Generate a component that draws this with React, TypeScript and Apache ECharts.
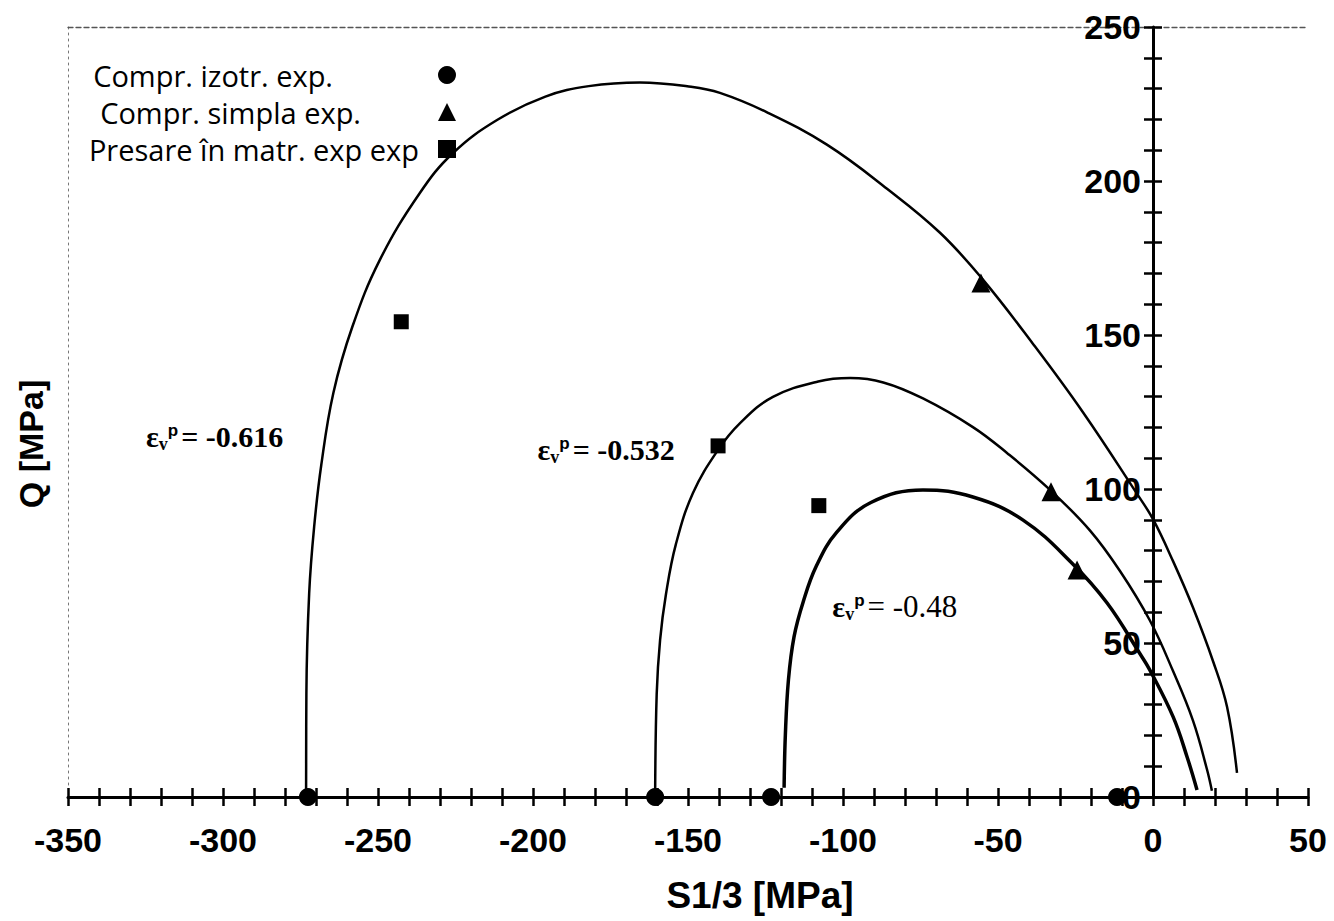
import React, { useEffect, useRef } from "react";
import * as echarts from "echarts";

// ---- data ----
const xLabelValues = [-350, -300, -250, -200, -150, -100, -50, 0, 50];
const yLabelValues = [0, 50, 100, 150, 200, 250];
const X_MIN = -350;
const X_MAX = 50;
const Y_MIN = 0;
const Y_MAX = 250;

const curve616 = [
  [-273.2, 0], [-273.1, 33.8], [-272.2, 66.2], [-270.6, 87.7], [-268.3, 107.8],
  [-264.4, 131.2], [-258.3, 152.6], [-249.4, 174.4], [-236.5, 196.1], [-225.8, 209.1],
  [-211.6, 219.8], [-196, 227.4], [-182, 230.8], [-165.5, 232], [-149, 230.6],
  [-139.7, 228.6], [-124.5, 222.3], [-105.2, 211.8], [-85.8, 197.5], [-68.7, 183.2],
  [-54.8, 167.9], [-38.7, 147.1], [-22.6, 124.9], [-5.2, 98.5], [0, 90.2],
  [6.5, 76.5], [12.9, 61.5], [19.4, 44], [23.9, 29.2], [27.1, 7.8],
];
const curve532 = [
  [-160.6, 0], [-160.1, 33.4], [-159, 51], [-157.1, 65.9], [-153.9, 82.1],
  [-148.4, 98.7], [-140.3, 112.7], [-133.2, 121.4], [-122.6, 129.9], [-108, 134.9],
  [-97.7, 136], [-87, 134.6], [-74.2, 129.4], [-58.1, 120.1], [-47.1, 111.7],
  [-33.2, 99.7], [-20.3, 86.5], [-10.6, 73.3], [-1, 57.3], [6.5, 40.8],
  [12.9, 24.8], [17.4, 9], [19, 2],
];
const curve48 = [
  [-119, 3], [-118.6, 20], [-117.6, 38], [-115.8, 52], [-112.8, 63.5],
  [-108.6, 75], [-102, 86], [-91, 95.6], [-74.2, 99.7], [-58.1, 97.4],
  [-41.9, 89.9], [-25.8, 75.6], [-14.8, 63], [-4.2, 46.5], [-1, 41.2],
  [6.5, 26], [11, 13], [14.2, 2.3],
];

const izotrPoints = [[-272.6, 0], [-160.6, 0], [-123.2, 0], [-11.6, 0]];
const simplaPoints = [[-55.5, 166.9], [-32.9, 99.1], [-24.5, 73.7]];
const matrPoints = [[-242.5, 154.3], [-140.3, 114], [-107.8, 94.6]];

const epsLabels = ["-0.616", "-0.532", "-0.48"];
const epsAnchors = [[-325, 116.9], [-198.7, 112.7], [-103.6, 61.7]];

const seriesNames = ["Compr. izotr. exp.", "Compr. simpla exp.", "Presare în matr. exp exp"];

const SANS = '"Liberation Sans", Arial, sans-serif';
const SERIF = '"Liberation Serif", "Times New Roman", serif';
const LEG = '"Open Sans", "DejaVu Sans", sans-serif';

const GRID = { left: 68, right: 26, top: 27, bottom: 124 };
const CHART_W = 1334;

export default function App() {
  const ref = useRef<HTMLDivElement>(null);

  useEffect(() => {
    if (!ref.current) return;
    const chart = echarts.init(ref.current, undefined, { renderer: "svg" });

    const tickLbl = (allowed: number[]) => (v: number) =>
      allowed.indexOf(Math.round(v)) >= 0 ? String(Math.round(v)) : "";

    // offset that moves the left-positioned y axis onto x = 0
    const gridW = CHART_W - GRID.left - GRID.right;
    const yAxisOffset = -gridW * ((0 - X_MIN) / (X_MAX - X_MIN));

    const baseX = { type: "value", min: X_MIN, max: X_MAX, interval: 10, splitLine: { show: false } };
    const baseY = { type: "value", min: Y_MIN, max: Y_MAX, interval: 10, splitLine: { show: false } };

    const curveStyle = (w: number) => ({
      type: "line",
      smooth: 0.4,
      showSymbol: false,
      symbol: "none",
      lineStyle: { color: "#000", width: w },
      silent: true,
      z: 3,
    });

    const option: any = {
      animation: false,
      backgroundColor: "#fff",
      grid: { ...GRID, containLabel: false },
      legend: {
        orient: "vertical",
        align: "right",
        right: 873,
        top: 55,
        itemWidth: 18,
        itemHeight: 18,
        itemGap: 7,
        selectedMode: false,
        itemStyle: { opacity: 1 },
        textStyle: { fontFamily: LEG, fontSize: 29, color: "#000", lineHeight: 30 },
        data: [
          { name: seriesNames[0], textStyle: { padding: [0, 100, 0, 0] } },
          { name: seriesNames[1], textStyle: { padding: [0, 72, 0, 0] } },
          { name: seriesNames[2], textStyle: { padding: [0, 14, 0, 0] } },
        ],
      },
      xAxis: [
        {
          ...baseX,
          position: "bottom",
          axisLine: { onZero: false, lineStyle: { color: "#000", width: 3 } },
          axisTick: { show: true, length: 9, lineStyle: { color: "#000", width: 2.5 } },
          axisLabel: {
            formatter: tickLbl(xLabelValues),
            fontFamily: SANS,
            fontWeight: "bold",
            fontSize: 34,
            color: "#000",
            margin: 26,
          },
          name: "S1/3 [MPa]",
          nameLocation: "middle",
          nameGap: 80,
          nameTextStyle: {
            fontFamily: SANS,
            fontWeight: "bold",
            fontSize: 37,
            color: "#000",
            padding: [0, 0, 0, 144],
          },
        },
        {
          ...baseX,
          position: "bottom",
          axisLine: { show: false, onZero: false },
          axisTick: { show: true, inside: true, length: 9, lineStyle: { color: "#000", width: 2.5 } },
          axisLabel: { show: false },
        },
        {
          ...baseX,
          position: "top",
          axisLine: { show: true, onZero: false, lineStyle: { color: "#555", width: 1.3, type: [5, 3] } },
          axisTick: { show: false },
          axisLabel: { show: false },
        },
      ],
      yAxis: [
        {
          ...baseY,
          position: "left",
          offset: yAxisOffset,
          axisLine: { onZero: false, lineStyle: { color: "#000", width: 3 } },
          axisTick: { show: true, length: 9, lineStyle: { color: "#000", width: 2.5 } },
          axisLabel: {
            formatter: tickLbl(yLabelValues),
            fontFamily: SANS,
            fontWeight: "bold",
            fontSize: 34,
            color: "#000",
            margin: 12,
          },
        },
        {
          ...baseY,
          position: "left",
          offset: yAxisOffset,
          axisLine: { show: false, onZero: false },
          axisTick: { show: true, inside: true, length: 9, lineStyle: { color: "#000", width: 2.5 } },
          axisLabel: { show: false },
        },
        {
          ...baseY,
          position: "left",
          offset: 0,
          axisLine: { show: true, onZero: false, lineStyle: { color: "#777", width: 1, type: [2, 4] } },
          axisTick: { show: false },
          axisLabel: { show: false },
          name: "Q [MPa]",
          nameLocation: "middle",
          nameGap: 20,
          nameRotate: 90,
          nameTextStyle: {
            fontFamily: SANS,
            fontWeight: "bold",
            fontSize: 34,
            color: "#000",
            padding: [0, 64, 0, 0],
          },
        },
      ],
      series: [
        { ...curveStyle(2.5), name: "eps616", data: curve616 },
        { ...curveStyle(2.5), name: "eps532", data: curve532 },
        { ...curveStyle(3.5), name: "eps48", data: curve48 },
        {
          type: "scatter",
          name: seriesNames[0],
          data: izotrPoints,
          symbol: "circle",
          symbolSize: 18,
          itemStyle: { color: "#000", opacity: 1 },
          z: 5,
        },
        {
          type: "scatter",
          name: seriesNames[1],
          data: simplaPoints,
          symbol: "triangle",
          symbolSize: 19,
          itemStyle: { color: "#000", opacity: 1 },
          z: 5,
        },
        {
          type: "scatter",
          name: seriesNames[2],
          data: matrPoints,
          symbol: "rect",
          symbolSize: 15,
          itemStyle: { color: "#000", opacity: 1 },
          z: 5,
        },
        {
          type: "scatter",
          name: "annotations",
          symbolSize: 1,
          itemStyle: { color: "rgba(0,0,0,0)", opacity: 1 },
          silent: true,
          data: epsAnchors.map((p, i) => ({ value: [p[0], p[1]], txt: epsLabels[i], idx: i })),
          label: {
            show: true,
            position: "right",
            distance: 0,
            color: "#000",
            opacity: 1,
            formatter: (p: any) => {
              const t = p.data.txt;
              const w = p.data.idx === 2 ? "tn" : "tb";
              return `{e|ε}{sub|v}{sup|p}{${w}|= ${t}}`;
            },
            rich: {
              e: { fontFamily: SERIF, fontSize: 30, fontWeight: "bold", color: "#000" },
              sub: { fontFamily: SERIF, fontSize: 18, fontWeight: "bold", color: "#000", padding: [14, 0, 0, 0] },
              sup: { fontFamily: SANS, fontSize: 17, fontWeight: "bold", color: "#000", padding: [0, 3, 12, 0] },
              tb: { fontFamily: SERIF, fontSize: 30, fontWeight: "bold", color: "#000" },
              tn: { fontFamily: SERIF, fontSize: 31, fontWeight: "normal", color: "#000" },
            },
          },
          z: 6,
        },
      ],
    };

    chart.setOption(option);
    return () => chart.dispose();
  }, []);

  return (
    <div
      ref={ref}
      style={{ position: "fixed", left: 0, top: 0, width: CHART_W, height: 921, background: "#fff" }}
    />
  );
}
